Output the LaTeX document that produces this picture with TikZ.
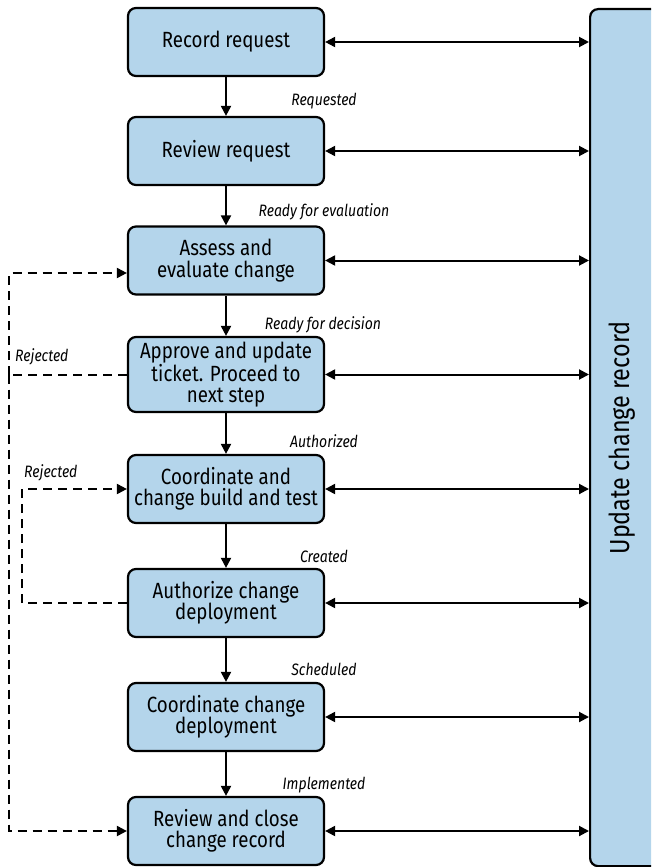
\documentclass[tikz,border=0pt]{standalone}
\usepackage{fontspec}
\setmainfont{Fira Sans}[FakeStretch=0.85]
\usetikzlibrary{arrows.meta}
\definecolor{boxblue}{RGB}{180,213,235}
\begin{document}
\begin{tikzpicture}[x=1pt,y=-1pt,
  stepbox/.style={draw, line width=2.2pt, fill=boxblue, rounded corners=8pt,
    minimum width=196pt, minimum height=68pt, align=center, inner sep=0pt,
    font=\fontsize{22}{21.5}\selectfont},
  tip/.tip={Triangle[length=10pt,width=10pt]},
  flow/.style={line width=2pt, -tip},
  sync/.style={line width=2pt, tip-tip},
  back/.style={line width=2pt, dash pattern=on 9pt off 6pt},
  backarrow/.style={back, -tip},
  state/.style={font=\fontsize{16.5}{16.5}\itshape\selectfont, inner sep=0pt}
]
\clip (0,0) rectangle (651,867);

% process steps
\node[stepbox] (b1) at (226,42) {Record request};
\node[stepbox] (b2) at (226,151) {Review request};
\node[stepbox] (b3) at (226,260.5) {Assess and\\evaluate change};
\node[stepbox, minimum height=75pt] (b4) at (226,374.5) {Approve and update\\ticket. Proceed to\\next step};
\node[stepbox] (b5) at (226,489) {Coordinate and\\change build and test};
\node[stepbox] (b6) at (226,603) {Authorize change\\deployment};
\node[stepbox] (b7) at (226,717) {Coordinate change\\deployment};
\node[stepbox] (b8) at (226,831) {Review and close\\change record};

% change record bar
\node[draw, line width=2.2pt, fill=boxblue, rounded corners=8pt, minimum width=90pt,
  minimum height=857pt, anchor=north west, inner sep=0pt] (rec) at (589,8) {};
\node[rotate=90, font=\fontsize{27.5}{27.5}\selectfont, inner sep=0pt] (rectxt) at (622,438) {Update change record};

% main flow
\draw[flow] (b1) -- (b2);
\draw[flow] (b2) -- (b3);
\draw[flow] (b3) -- (b4);
\draw[flow] (b4) -- (b5);
\draw[flow] (b5) -- (b6);
\draw[flow] (b6) -- (b7);
\draw[flow] (b7) -- (b8);

% state labels
\node[state] (s1) at (324,101) {Requested};
\node[state] (s2) at (324,212) {Ready for evaluation};
\node[state] (s3) at (323,325) {Ready for decision};
\node[state] (s4) at (324,441) {Authorized};
\node[state] (s5) at (324,556) {Created};
\node[state] (s6) at (324,669) {Scheduled};
\node[state] (s7) at (324,785) {Implemented};

% record updates
\foreach \b in {b1,b2,b3,b4,b5,b6,b7,b8}
  \draw[sync] (\b.east) -- (rec.west |- \b.east);

% rejection paths
\coordinate (o1) at (9,374.5);
\coordinate (i1) at (22,603);
\draw[back] (b4.west) -- (o1);
\draw[backarrow] (o1) |- ([yshift=-12.5pt]b3.west);
\draw[backarrow] (o1) |- (b8.west);
\draw[back] (b6.west) -- (i1);
\draw[backarrow] (i1) |- (b5.west);

\node[state, anchor=west] (r1) at (15,357) {Rejected};
\node[state, anchor=west] (r2) at (24,473) {Rejected};
\end{tikzpicture}
\end{document}
